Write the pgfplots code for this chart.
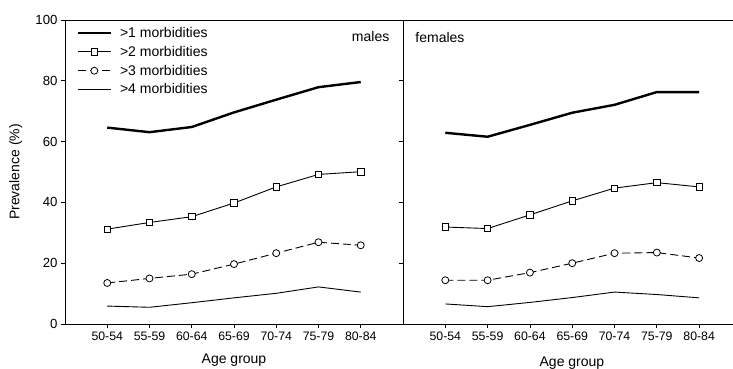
\documentclass[border=0pt]{standalone}
\usepackage{fontspec}
\setmainfont{Liberation Sans}
\usepackage{pgfplots}
\pgfplotsset{compat=1.18}

\begin{document}
\begin{tikzpicture}[font=\fontsize{14}{16}\selectfont]
\useasboundingbox (-65pt,-44pt) rectangle (668pt,324pt);
\pgfplotsset{
  panel/.style={
    scale only axis, height=304pt,
    ymin=0, ymax=100, ytick={0,20,...,100},
    xmin=-1, xtick={0,...,6},
    xticklabels={50-54,55-59,60-64,65-69,70-74,75-79,80-84},
    tick align=outside, tick pos=left, major tick length=4pt,
    tick style={black, line width=0.8pt},
    yticklabel style={font=\fontsize{13.2}{15}\selectfont},
    xticklabel style={font=\fontsize{12.3}{14}\selectfont},
    /pgf/number format/assume math mode=true,
    axis line style={black, line width=0.9pt},
    xlabel={Age group},
    clip=false,
  },
  s1/.style={black, line width=2.4pt, no marks},
  s2/.style={black, line width=0.9pt, mark=square*,
    mark options={fill=white, solid, line width=0.8pt}, mark size=3.2pt},
  s3/.style={black, line width=0.9pt, dash pattern=on 8pt off 4pt, mark=*,
    mark options={fill=white, solid, line width=0.8pt}, mark size=3.5pt},
  s4/.style={black, line width=0.9pt, no marks},
}

% males
\begin{axis}[panel, at={(0pt,0pt)}, anchor=south west,
  width=338pt, xmax=7,
  ylabel={Prevalence (\%)},
  ylabel style={at={(axis description cs:-0.146,0.5)}, anchor=center},
  xlabel style={at={(axis description cs:0.5,0)}, anchor=center, yshift=-36pt},
  legend cell align=left,
  legend style={draw=none, fill=none, at={(axis description cs:0.025,0.99)},
    anchor=north west, font=\fontsize{14}{16}\selectfont, row sep=3.2pt,
    /tikz/every odd column/.append style={column sep=6pt}},
  legend image code/.code={\draw[mark repeat=2,mark phase=2,#1]
    plot coordinates {(0pt,0pt)(16.5pt,0pt)(33pt,0pt)};},
]
\addplot[s1] coordinates {(0,64.6) (1,63.1) (2,64.8) (3,69.6) (4,73.8) (5,77.9) (6,79.6)};
\addplot[s2] coordinates {(0,31.2) (1,33.4) (2,35.3) (3,39.8) (4,45.1) (5,49.2) (6,50.1)};
\addplot[s3] coordinates {(0,13.5) (1,15.0) (2,16.4) (3,19.7) (4,23.3) (5,26.9) (6,25.9)};
\addplot[s4] coordinates {(0,5.9) (1,5.5) (2,7.0) (3,8.6) (4,10.1) (5,12.2) (6,10.5)};
\legend{>1 morbidities, >2 morbidities, >3 morbidities, >4 morbidities}
\node[anchor=east] at (axis description cs:0.97,0.947) {males};
\end{axis}

% females
\begin{axis}[panel, at={(338pt,0pt)}, anchor=south west,
  width=330pt, xmax=6.8,
  axis x line*=box, axis y line*=left, xtick pos=left, ytick pos=left,
  yticklabels={},
  xlabel style={at={(axis description cs:0.512,0)}, anchor=center, yshift=-38.7pt},
]
\addplot[s1] coordinates {(0,62.9) (1,61.6) (2,65.5) (3,69.5) (4,72.1) (5,76.3) (6,76.3)};
\addplot[s2] coordinates {(0,31.9) (1,31.4) (2,35.9) (3,40.5) (4,44.7) (5,46.5) (6,45.1)};
\addplot[s3] coordinates {(0,14.4) (1,14.4) (2,16.9) (3,20.0) (4,23.3) (5,23.5) (6,21.7)};
\addplot[s4] coordinates {(0,6.6) (1,5.7) (2,7.1) (3,8.7) (4,10.5) (5,9.7) (6,8.6)};
\node[anchor=west] at (axis description cs:0.027,0.944) {females};
\end{axis}
\end{tikzpicture}
\end{document}
